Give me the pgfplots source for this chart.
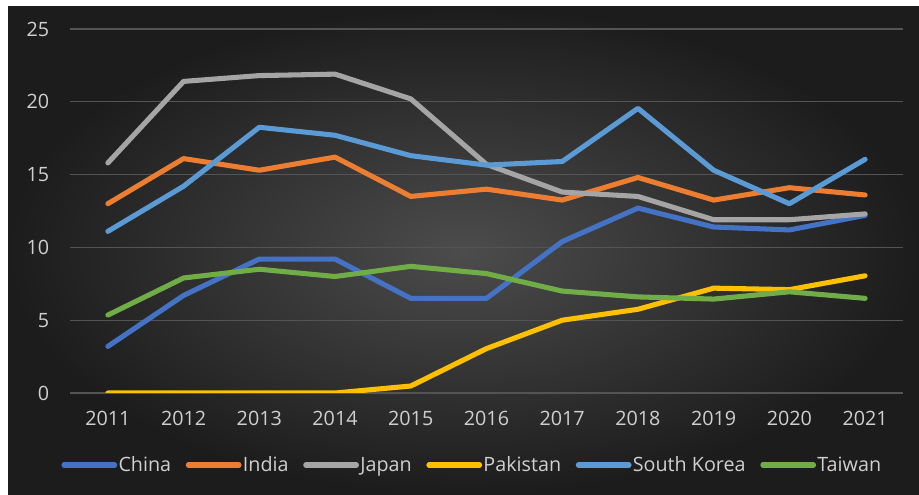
\documentclass[border=0pt]{standalone}
\usepackage{pgfplots}
\pgfplotsset{compat=1.18}
\usepackage{pgfplotstable}
\usepackage{fontspec}
\setmainfont{Open Sans}
\definecolor{cChina}{HTML}{4472C4}
\definecolor{cIndia}{HTML}{ED7D31}
\definecolor{cJapan}{HTML}{A5A5A5}
\definecolor{cPak}{HTML}{FFC000}
\definecolor{cSK}{HTML}{5B9BD5}
\definecolor{cTW}{HTML}{70AD47}
\definecolor{tickc}{HTML}{CFCFCF}
\definecolor{gridc}{HTML}{545454}
\definecolor{bgin}{HTML}{4C4C4C}
\definecolor{bgout}{HTML}{1C1C1C}
\pgfplotstableread{
year China India Japan Pakistan SKorea Taiwan
2011 3.2 13.0 15.8 0 11.1 5.35
2012 6.7 16.1 21.4 0 14.2 7.9
2013 9.2 15.3 21.8 0 18.25 8.5
2014 9.2 16.2 21.9 0 17.7 8.0
2015 6.5 13.5 20.2 0.48 16.3 8.7
2016 6.5 14.0 15.7 3.05 15.65 8.2
2017 10.4 13.25 13.8 5.0 15.9 7.0
2018 12.7 14.8 13.5 5.75 19.55 6.6
2019 11.4 13.25 11.9 7.2 15.3 6.45
2020 11.2 14.1 11.9 7.1 13.0 6.95
2021 12.2 13.6 12.3 8.05 16.05 6.5
}\data
\begin{document}
\begin{tikzpicture}
\useasboundingbox (0,0) rectangle (689.25pt,371.25pt);
\fill[white] (0,0) rectangle (689.25pt,371.25pt);
\shade[inner color=bgin, outer color=bgout] (6pt,0) rectangle (689.25pt,366pt);
\begin{axis}[
  at={(52.5pt,76.5pt)}, anchor=south west,
  scale only axis, width=624.75pt, height=273pt,
  xmin=2010.5, xmax=2021.5, ymin=0, ymax=25,
  xtick={2011,...,2021}, ytick={0,5,...,25},
  axis line style={draw=none},
  major tick length=0pt,
  ymajorgrids, grid style={gridc, line width=1pt},
  /pgf/number format/assume math mode=true,
  xticklabel style={/pgf/number format/1000 sep={}, anchor=north, inner sep=0pt, yshift=-13.5pt},
  yticklabel style={anchor=east, inner sep=0pt, xshift=-15.5pt},
  ticklabel style={font=\fontsize{14.8}{17}\selectfont, text=tickc},
  every axis plot/.append style={line width=3.8pt, line cap=round, line join=round, no markers},
  legend columns=-1,
  legend image code/.code={\draw[#1] (0pt,0pt) -- (38pt,0pt);},
  legend style={draw=none, fill=none, at={(0.5,0)}, anchor=center, yshift=-54pt, xshift=-10.9pt,
    font=\fontsize{14.8}{17}\selectfont, text=tickc, nodes={inner sep=1pt},
    /tikz/every even column/.append style={column sep=10pt}},
]
\addplot[cChina] table[x=year, y=China] {\data};
\addplot[cIndia] table[x=year, y=India] {\data};
\addplot[cJapan] table[x=year, y=Japan] {\data};
\addplot[cPak] table[x=year, y=Pakistan] {\data};
\addplot[cSK] table[x=year, y=SKorea] {\data};
\addplot[cTW] table[x=year, y=Taiwan] {\data};
\legend{China, India, Japan, Pakistan, South Korea, Taiwan}
\end{axis}
\end{tikzpicture}
\end{document}
